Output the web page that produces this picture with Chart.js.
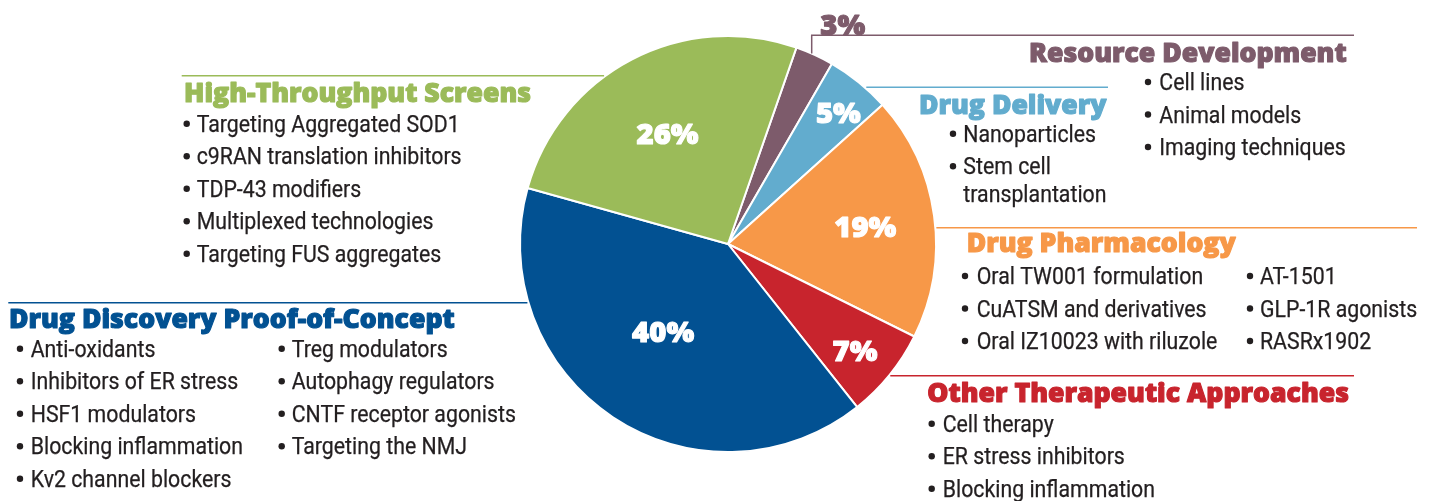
<!DOCTYPE html>
<html><head><meta charset="utf-8">
<script src="https://cdn.jsdelivr.net/npm/chart.js@4.4.1/dist/chart.umd.min.js"></script>
<style>html,body{margin:0;padding:0;background:#fff;overflow:hidden}#wrap{width:1435px;height:501px;position:relative}</style>
</head><body><div id="wrap"><canvas id="c" width="1435" height="501"></canvas></div>
<script>
// ---------- data ----------
const categories = ['Resource Development','Drug Delivery','Drug Pharmacology','Other Therapeutic Approaches','Drug Discovery Proof-of-Concept','High-Throughput Screens'];
const shares = [3, 5, 19, 7, 40, 26];
const pctLabels = ['3%', '5%', '19%', '7%', '40%', '26%'];
const itemsResource = ['Cell lines', 'Animal models', 'Imaging techniques'];
const itemsDelivery = ['Nanoparticles', 'Stem cell\ntransplantation'];
const itemsPharmaA = ['Oral TW001 formulation', 'CuATSM and derivatives', 'Oral IZ10023 with riluzole'];
const itemsPharmaB = ['AT-1501', 'GLP-1R agonists', 'RASRx1902'];
const itemsOther = ['Cell therapy', 'ER stress inhibitors', 'Blocking inflammation'];
const itemsDiscoveryA = ['Anti-oxidants', 'Inhibitors of ER stress', 'HSF1 modulators', 'Blocking inflammation', 'Kv2 channel blockers'];
const itemsDiscoveryB = ['Treg modulators', 'Autophagy regulators', 'CNTF receptor agonists', 'Targeting the NMJ'];
const itemsScreens = ['Targeting Aggregated SOD1', 'c9RAN translation inhibitors', 'TDP-43 modifiers', 'Multiplexed technologies', 'Targeting FUS aggregates'];

// ---------- styles / layout ----------
const palette = ['#7d5b6b', '#62acce', '#f79848', '#c8242d', '#025192', '#9bbb59'];
const textColor = '#231f20';
const HEAD_FONT = '800 26px "Open Sans"';
const BODY_FONT = '400 23px Roboto';
const PCT_FONT = '800 29px "Open Sans"';
const LINE_GAP = 32.5;

const annot = [
  {line:{type:'elbow', x:811.7, y:35.3, x2:1354}, head:{x:1029, y:62.3}, cols:[{bx:1148, tx:1159.3, y:90, items:itemsResource}]},
  {line:{type:'h', y:87.3, x2:1108}, head:{x:919, y:113.5}, cols:[{bx:953, tx:963.3, y:141.7, items:itemsDelivery}]},
  {line:{type:'h', y:227.7, x2:1417}, head:{x:966.7, y:251.5}, cols:[{bx:965, tx:976.7, y:284, items:itemsPharmaA},{bx:1250, tx:1260, y:284, items:itemsPharmaB}]},
  {line:{type:'h', y:375.7, x2:1354}, head:{x:927.3, y:402.3}, cols:[{bx:931.7, tx:942.7, y:431.7, items:itemsOther}]},
  {line:{type:'h', y:302.7, x2:8.3}, head:{x:9, y:328.3}, cols:[{bx:20, tx:30.7, y:356.7, items:itemsDiscoveryA},{bx:281.7, tx:291.7, y:356.7, items:itemsDiscoveryB}]},
  {line:{type:'h', y:75.7, x2:181.7}, head:{x:184, y:102.3}, cols:[{bx:186.7, tx:196.7, y:131.7, items:itemsScreens}]}
];
// percent label placement: fraction of radius, angle offset (deg)
const pctPlace = [[1.19, 3, true], [0.822, 1.2], [0.665, 0.9], [0.798, 1.1], [0.527, 2.7], [0.605, -1.1]];

function scaledText(ctx, text, x, y, font, color, sx, align, stroke) {
  ctx.save();
  ctx.font = font; ctx.fillStyle = color; ctx.textAlign = align || 'left'; ctx.textBaseline = 'alphabetic';
  ctx.translate(x, y); ctx.scale(sx, 1); ctx.fillText(text, 0, 0);
  if (stroke) { ctx.strokeStyle = color; ctx.lineWidth = stroke; ctx.lineJoin = 'round'; ctx.strokeText(text, 0, 0); }
  ctx.restore();
}
function widthOf(ctx, text, font) { ctx.save(); ctx.font = font; const w = ctx.measureText(text).width; ctx.restore(); return w; }

const annotPlugin = {
  id: 'annot',
  afterDatasetsDraw(chart) {
    const ctx = chart.ctx;
    const meta = chart.getDatasetMeta(0);
    const sxHead = 347 / widthOf(ctx, 'High-Throughput Screens', HEAD_FONT);
    const sxBody = 263 / widthOf(ctx, 'Targeting Aggregated SOD1', BODY_FONT);
    const sxPct = 62 / widthOf(ctx, '26%', PCT_FONT);
    meta.data.forEach((arc, i) => {
      const p = arc.getProps(['x', 'y', 'startAngle', 'endAngle', 'outerRadius'], true);
      const R = p.outerRadius + 1;
      const color = palette[i];
      // leader line
      const a = annot[i];
      ctx.save();
      ctx.strokeStyle = color; ctx.lineWidth = 1.5;
      ctx.beginPath();
      if (a.line.type === 'h') {
        const dy = a.line.y - p.y;
        const dx = Math.sqrt(Math.max(R * R - dy * dy, 0));
        const xe = a.line.x2 > p.x ? p.x + dx : p.x - dx;
        ctx.moveTo(xe, a.line.y); ctx.lineTo(a.line.x2, a.line.y);
      } else {
        const dx = a.line.x - p.x;
        const dy = Math.sqrt(Math.max(R * R - dx * dx, 0));
        ctx.moveTo(a.line.x, p.y - dy + 1); ctx.lineTo(a.line.x, a.line.y); ctx.lineTo(a.line.x2, a.line.y);
      }
      ctx.stroke();
      ctx.restore();
      // header
      scaledText(ctx, categories[i], a.head.x, a.head.y, HEAD_FONT, color, sxHead, 'left', 1.1);
      // bullets
      a.cols.forEach(col => {
        let y = col.y;
        col.items.forEach(item => {
          const parts = item.split('\n');
          ctx.save(); ctx.fillStyle = textColor; ctx.beginPath(); ctx.arc(col.bx, y - 8, 3.2, 0, Math.PI * 2); ctx.fill(); ctx.restore();
          parts.forEach((t, k) => {
            scaledText(ctx, t, col.tx, y + k * 28, BODY_FONT, textColor, sxBody, 'left', 0.25);
          });
          y += LINE_GAP + (parts.length - 1) * 28;
        });
      });
      // percent label
      const pl = pctPlace[i];
      const mid = (p.startAngle + p.endAngle) / 2 + pl[1] * Math.PI / 180;
      const r = p.outerRadius * pl[0];
      const cx = p.x + Math.cos(mid) * r, cy = p.y + Math.sin(mid) * r;
      ctx.save(); ctx.font = PCT_FONT;
      const asc = ctx.measureText('0').actualBoundingBoxAscent; ctx.restore();
      const pc = pl[2] ? color : '#ffffff';
      scaledText(ctx, pctLabels[i], cx, cy + asc / 2, PCT_FONT, pc, sxPct, 'center', 1.1);
    });
  }
};

new Chart(document.getElementById('c'), {
  type: 'pie',
  data: { labels: categories, datasets: [{ data: shares, backgroundColor: palette, borderColor: '#ffffff', borderWidth: 2 }] },
  options: {
    responsive: false, animation: false, events: [],
    rotation: 19.2,
    layout: { padding: { left: 428, right: 407, top: 35, bottom: 48 } },
    plugins: { legend: { display: false }, tooltip: { enabled: false } }
  },
  plugins: [annotPlugin]
});
</script></body></html>
